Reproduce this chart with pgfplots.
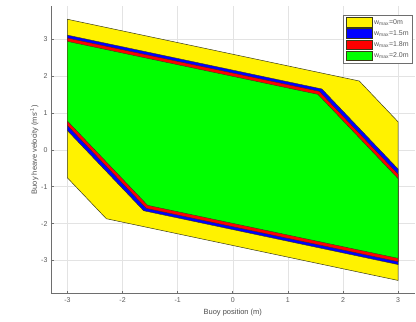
\documentclass[border=0pt]{standalone}
\usepackage{pgfplots}
\pgfplotsset{compat=1.18}
\usepackage{fontspec}
\setmainfont{Liberation Sans}
\definecolor{axgray}{HTML}{6E6E6E}
\definecolor{gridgray}{HTML}{E3E3E3}
\definecolor{edgec}{HTML}{3A3A1A}
\begin{document}
\begin{tikzpicture}
\begin{axis}[
  name=ax,
  scale only axis,
  width=364pt, height=288pt,
  xmin=-3.3, xmax=3.3, ymin=-3.9, ymax=3.9,
  xtick={-3,-2,...,3}, ytick={-3,-2,...,3},
  axis lines=left,
  axis line style={-, draw=axgray, line width=0.9pt},
  tick align=inside,
  major tick length=3pt,
  tick style={draw=axgray, line width=0.6pt},
  grid=major,
  major grid style={draw=gridgray, line width=0.5pt},
  ticklabel style={font=\fontsize{7}{8}\selectfont, text=black!65},
  /pgf/number format/assume math mode=true,
  xlabel={Buoy position (m)},
  ylabel={Buoy heave velocity (ms\textsuperscript{-1})},
  label style={font=\fontsize{7.5}{8}\selectfont, text=black!70},
  xlabel style={yshift=0pt},
  ylabel style={yshift=-4pt},
  legend style={at={(0.9956,0.969)}, anchor=north east,
    draw=axgray, fill=white, line width=0.6pt,
    font=\fontsize{7}{8}\selectfont, text=black!65,
    inner sep=2pt, row sep=0.8pt,
    legend image code/.code={\draw[#1, draw=edgec, line width=0.5pt] (0pt,-4.8pt) rectangle (26pt,4.8pt);}},
  legend cell align=left,
]
% yellow region: w_max = 0 m
\addplot[fill=yellow, draw=edgec, line width=0.5pt] coordinates {
  (-3,3.54) (2.295,1.867) (3,0.76) (3,-3.54) (-2.295,-1.867) (-3,-0.76)} -- cycle;
\addlegendentry{w\textsubscript{max}=0m}
% blue region: w_max = 1.5 m
\addplot[fill=blue, draw=edgec, line width=0.4pt] coordinates {
  (-3,3.11) (1.617,1.651) (3,-0.52) (3,-3.11) (-1.617,-1.651) (-3,0.52)} -- cycle;
\addlegendentry{w\textsubscript{max}=1.5m}
% red region: w_max = 1.8 m
\addplot[fill=red, draw=edgec, line width=0.4pt] coordinates {
  (-3,3.03) (1.569,1.586) (3,-0.66) (3,-3.03) (-1.569,-1.586) (-3,0.66)} -- cycle;
\addlegendentry{w\textsubscript{max}=1.8m}
% green region: w_max = 2.0 m
\addplot[fill=green, draw=edgec, line width=0.4pt] coordinates {
  (-3,2.94) (1.545,1.504) (3,-0.78) (3,-2.94) (-1.545,-1.504) (-3,0.78)} -- cycle;
\addlegendentry{w\textsubscript{max}=2.0m}
\end{axis}
\pgfresetboundingbox
\path ([xshift=-51pt,yshift=-28pt]ax.south west) rectangle ([xshift=1.4pt,yshift=6pt]ax.north east);
\end{tikzpicture}
\end{document}
